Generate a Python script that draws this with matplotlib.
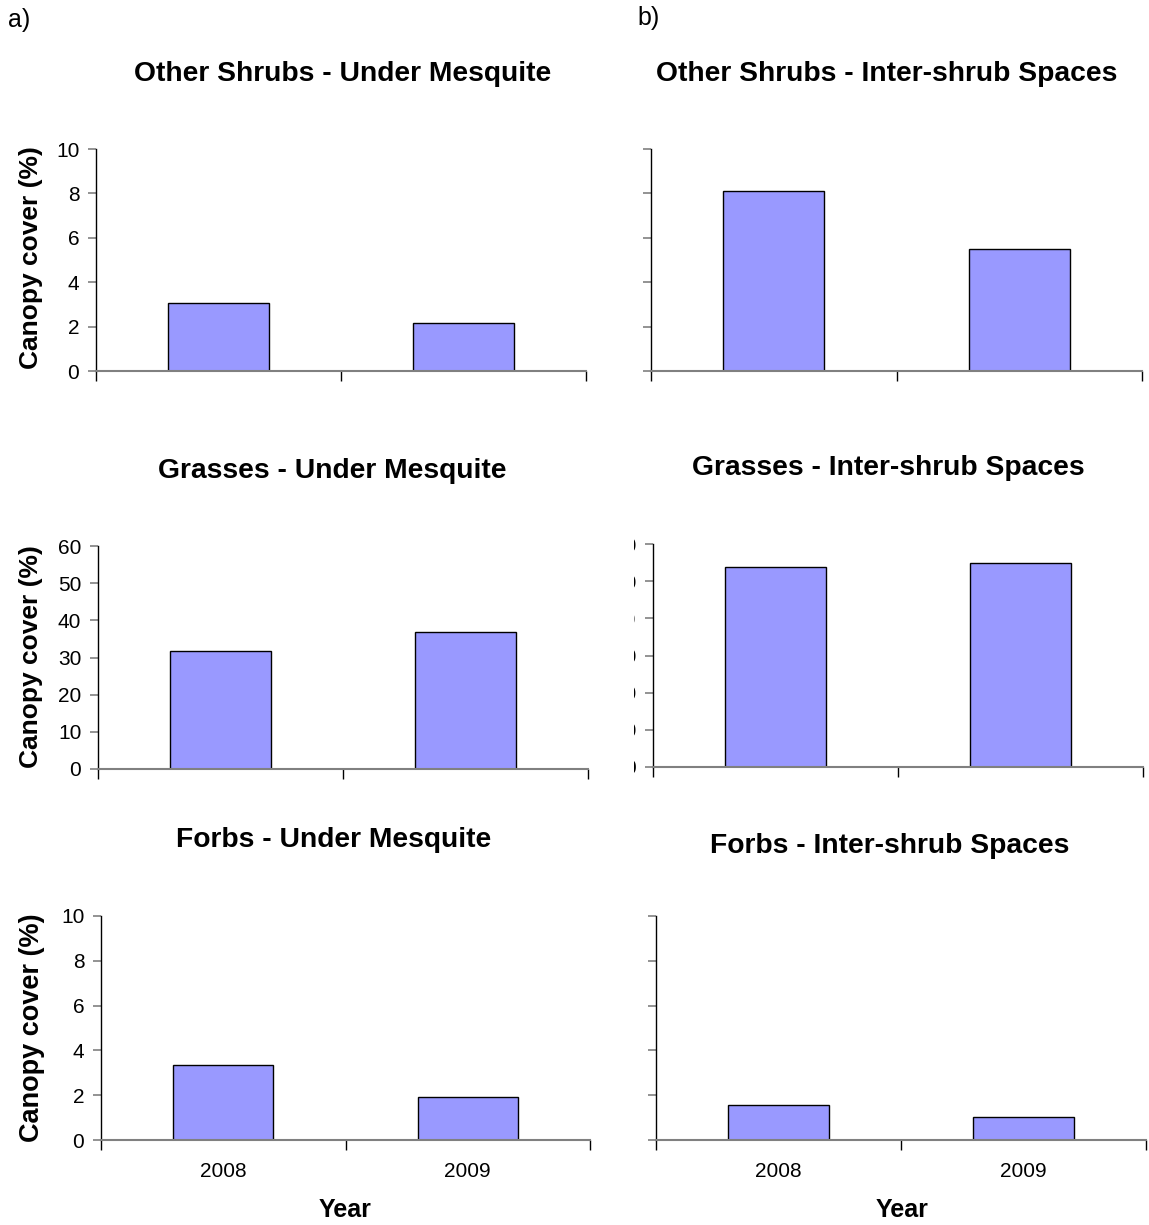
import matplotlib
matplotlib.use("Agg")
import matplotlib.pyplot as plt
from matplotlib.transforms import Bbox, TransformedBbox

plt.rcParams["font.family"] = ["Liberation Sans", "DejaVu Sans"]

years = ["2008", "2009"]

shrubs_under = [3.05, 2.15]
shrubs_inter = [8.1, 5.5]
grasses_under = [31.7, 36.9]
grasses_inter = [53.8, 54.9]
forbs_under = [3.35, 1.92]
forbs_inter = [1.56, 1.03]

W, H = 1149, 1225
fig = plt.figure(figsize=(W / 100, H / 100), dpi=100)


def px_axes(left, right, top, bottom):
    # convert pixel box (from top-left) to figure fraction
    return fig.add_axes([left / W, 1 - bottom / H, (right - left) / W, (bottom - top) / H])


def draw_panel(ax, values, ymax, ystep, show_ylabels=True, show_xlabels=False):
    x = list(range(len(years)))
    ax.bar(x, values, width=0.41, color="#9999ff", edgecolor="black", linewidth=1.0)
    ax.set_xlim(-0.5, len(years) - 0.5)
    ax.set_ylim(0, ymax)
    ax.set_yticks(range(0, ymax + 1, ystep))
    for s in ["top", "right"]:
        ax.spines[s].set_visible(False)
    ax.spines["left"].set_color("black")
    ax.spines["bottom"].set_color("#808080")
    ax.spines["left"].set_linewidth(1.0)
    ax.spines["bottom"].set_linewidth(1.5)

    # category boundaries get the tick marks, like excel
    ax.set_xticks([-0.5, 0.5, 1.5], minor=True)
    ax.tick_params(axis="x", which="minor", length=7, width=1, color="black", direction="out")
    ax.set_xticks(x)
    ax.tick_params(axis="x", which="major", length=0, pad=16, labelsize=15)
    ax.tick_params(axis="y", length=6, width=1.2, color="#808080", labelsize=15, pad=6)
    if show_xlabels:
        ax.set_xticklabels(years)
    else:
        ax.set_xticklabels([])
    if not show_ylabels:
        ax.set_yticklabels([])


ax1 = px_axes(96, 586, 149, 371)
draw_panel(ax1, shrubs_under, 10, 2)
ax2 = px_axes(651, 1142, 149, 371)
draw_panel(ax2, shrubs_inter, 10, 2, show_ylabels=False)
ax3 = px_axes(98, 588, 546, 769)
draw_panel(ax3, grasses_under, 60, 10)
ax4 = px_axes(653, 1143, 544, 767)
draw_panel(ax4, grasses_inter, 60, 10)
ax5 = px_axes(101, 590, 916, 1140)
draw_panel(ax5, forbs_under, 10, 2, show_xlabels=True)
ax6 = px_axes(656, 1146, 916, 1140)
draw_panel(ax6, forbs_inter, 10, 2, show_ylabels=False, show_xlabels=True)

# the grasses inter-shrub labels are cut off in the original, only a sliver shows
clip = TransformedBbox(Bbox([[634 / W, 0], [641 / W, 1]]), fig.transFigure)
for lbl in ax4.get_yticklabels():
    lbl.set_clip_on(True)
    lbl.set_clip_box(clip)


def ftext(x, y, s, **kw):
    fig.text(x / W, 1 - y / H, s, ha="center", va="center", **kw)


ftext(19, 20, "a)", fontsize=18)
ftext(649, 18, "b)", fontsize=18)

ftext(343, 74, "Other Shrubs - Under Mesquite", fontsize=20.3, fontweight="bold")
ftext(887, 74, "Other Shrubs - Inter-shrub Spaces", fontsize=20.3, fontweight="bold")
ftext(332, 471, "Grasses - Under Mesquite", fontsize=20.3, fontweight="bold")
ftext(888, 468, "Grasses - Inter-shrub Spaces", fontsize=20.3, fontweight="bold")
ftext(334, 840, "Forbs - Under Mesquite", fontsize=20.3, fontweight="bold")
ftext(890, 846, "Forbs - Inter-shrub Spaces", fontsize=20.3, fontweight="bold")

ftext(31, 258, "Canopy cover (%)", fontsize=19, fontweight="bold", rotation=90)
ftext(31, 657, "Canopy cover (%)", fontsize=19, fontweight="bold", rotation=90)
ftext(32, 1028, "Canopy cover (%)", fontsize=19.5, fontweight="bold", rotation=90)

ftext(345, 1210, "Year", fontsize=18, fontweight="bold")
ftext(902, 1210, "Year", fontsize=18, fontweight="bold")

fig.savefig("out.png", dpi=100)
